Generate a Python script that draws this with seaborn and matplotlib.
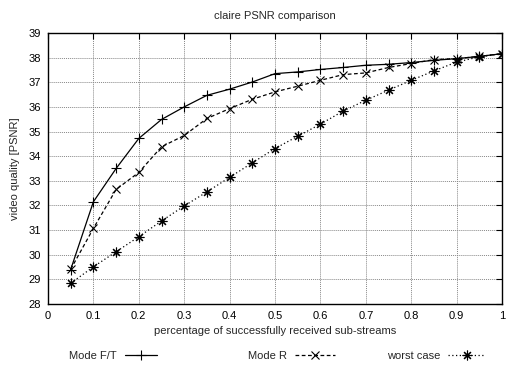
import numpy as np
import pandas as pd
import matplotlib
matplotlib.use('Agg')
import matplotlib.pyplot as plt
import seaborn as sns

# fraction of received sub-streams
received = [0.05, 0.10, 0.15, 0.20, 0.25, 0.30, 0.35, 0.40, 0.45, 0.50,
            0.55, 0.60, 0.65, 0.70, 0.75, 0.80, 0.85, 0.90, 0.95, 1.00]

# PSNR values
psnr_ft = [29.40, 32.15, 33.50, 34.72, 35.49, 36.00, 36.47, 36.72, 37.01, 37.35,
           37.42, 37.52, 37.60, 37.69, 37.73, 37.80, 37.89, 37.96, 38.05, 38.16]
psnr_r = [29.41, 31.07, 32.65, 33.34, 34.38, 34.84, 35.53, 35.93, 36.31, 36.61,
          36.84, 37.08, 37.31, 37.38, 37.60, 37.76, 37.92, 37.96, 38.05, 38.16]
psnr_worst = [28.84, 29.51, 30.12, 30.73, 31.37, 31.98, 32.55, 33.14, 33.73, 34.31,
              34.81, 35.30, 35.83, 36.27, 36.68, 37.08, 37.46, 37.82, 38.03, 38.16]

series_names = ['Mode F/T', 'Mode R', 'worst case']

sns.set_style('white')
plt.rcParams['font.family'] = ['Liberation Sans', 'DejaVu Sans']
plt.rcParams['font.size'] = 8

fig = plt.figure(figsize=(5.08, 3.65), dpi=100)
ax = fig.add_axes([48 / 508, 1 - 304 / 365, (502 - 48) / 508, (304 - 33) / 365])

styles = [
    dict(marker='+', linestyle='-', markersize=6.5),
    dict(marker='x', linestyle=(0, (3, 2)), markersize=5.5),
    dict(marker=(8, 2, 0), linestyle=(0, (1, 2)), markersize=7),
]
for name, vals, st in zip(series_names, [psnr_ft, psnr_r, psnr_worst], styles):
    df = pd.DataFrame({'x': received, 'y': vals})
    sns.lineplot(data=df, x='x', y='y', ax=ax, color='black', linewidth=0.9,
                 markeredgewidth=0.8, markeredgecolor='black', label=name, **st)

ax.set_xlim(0, 1)
ax.set_ylim(28, 39)
ax.set_xticks(np.arange(0, 1.01, 0.1))
ax.set_xticklabels(['0', '0.1', '0.2', '0.3', '0.4', '0.5', '0.6', '0.7', '0.8', '0.9', '1'])
ax.set_yticks(np.arange(28, 39.5, 1))
ax.grid(True, color='#888888', linestyle=(0, (1, 1)), linewidth=0.7)
ax.tick_params(direction='in', top=True, right=True, length=4, width=0.8, labelsize=8,
               pad=5, colors='black')
for sp in ax.spines.values():
    sp.set_color('black')
    sp.set_linewidth(1.0)

ax.set_xlabel('percentage of successfully received sub-streams', fontsize=8, labelpad=4)
ax.set_ylabel('video quality [PSNR]', fontsize=8, labelpad=6)
ax.set_title('claire PSNR comparison', fontsize=8, pad=10)

handles, labels = ax.get_legend_handles_labels()
ax.get_legend().remove()

# one key entry per series, text on the left like the original
key_right = [157, 335, 485]
key_len = [2.9, 3.6, 3.3]
for h, lab, xr, hl in zip(handles, labels, key_right, key_len):
    fig.legend([h], [lab], loc='center right', bbox_to_anchor=(xr / 508, 1 - 356 / 365),
               frameon=False, markerfirst=False, handlelength=hl, handletextpad=0.7,
               borderpad=0, borderaxespad=0, fontsize=8)

fig.savefig('out.png', dpi=100)
